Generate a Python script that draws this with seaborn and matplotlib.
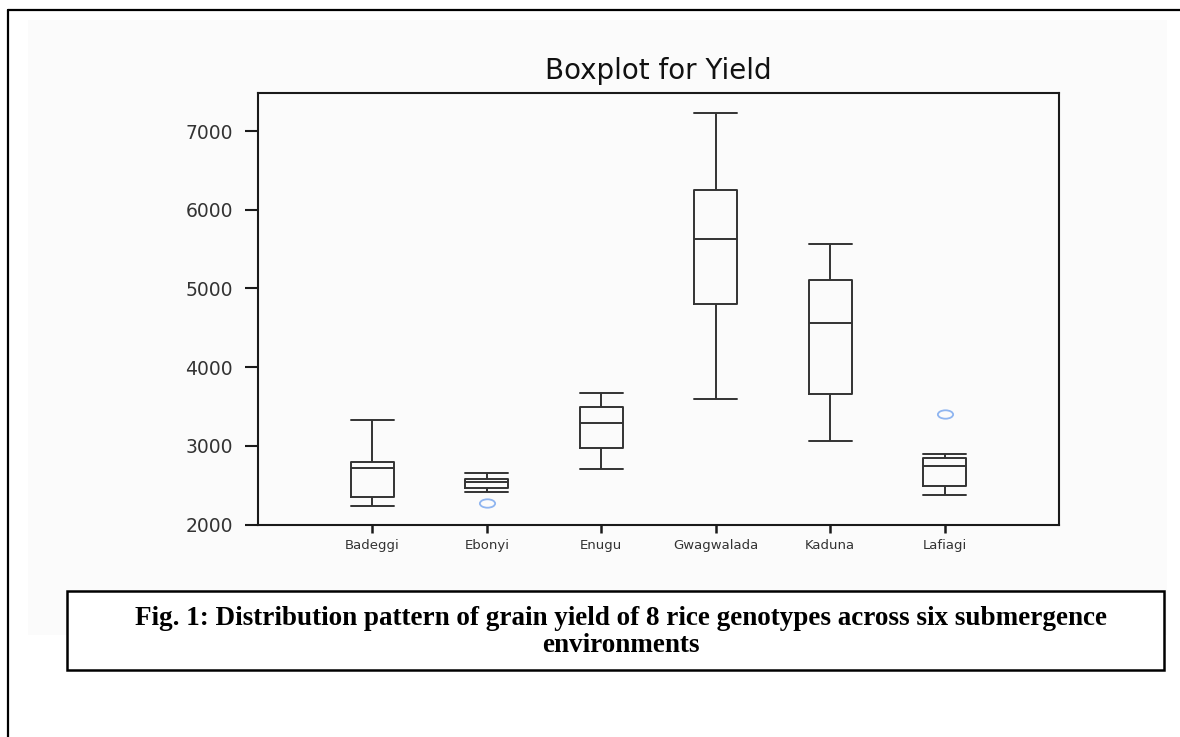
import numpy as np
import pandas as pd
import matplotlib
matplotlib.use("Agg")
import matplotlib.pyplot as plt
from matplotlib.path import Path
from matplotlib.patches import Rectangle
from matplotlib.lines import Line2D
from matplotlib.transforms import Affine2D
import seaborn as sns

# ---------------- data (grain yield of 8 genotypes per environment) ----------------
environments = ["Badeggi", "Ebonyi", "Enugu", "Gwagwalada", "Kaduna", "Lafiagi"]
badeggi = [2229, 2340, 2361, 2690, 2742, 2780, 2832, 3332]
ebonyi = [2267, 2407, 2487, 2525, 2551, 2572, 2608, 2649]
enugu = [2704, 2930, 2991, 3250, 3328, 3460, 3576, 3667]
gwagwalada = [3599, 4690, 4841, 5480, 5772, 6150, 6562, 7233]
kaduna = [3056, 3520, 3709, 4390, 4732, 5040, 5312, 5562]
lafiagi = [2369, 2450, 2500, 2700, 2784, 2832, 2899, 3403]
y_ticks = [2000, 3000, 4000, 5000, 6000, 7000]
title_text = "Boxplot for Yield"
caption_lines = ["Fig. 1: Distribution pattern of grain yield of 8 rice genotypes across six submergence",
                 "environments"]

series = [badeggi, ebonyi, enugu, gwagwalada, kaduna, lafiagi]
df = pd.DataFrame({
    "env": np.repeat(environments, [len(s) for s in series]),
    "yield": np.concatenate(series),
})

sns.set_theme(style="white")
plt.rcParams["font.family"] = ["DejaVu Sans"]

W, H = 1180, 737
fig = plt.figure(figsize=(W / 100, H / 100), dpi=100)
fig.patch.set_facecolor("white")

BG = "#fbfbfb"
# faint grey picture background + outer frame lines
fig.add_artist(Rectangle((28 / W, 1 - 635 / H), (1167 - 28) / W, (635 - 20) / H,
                         transform=fig.transFigure, facecolor=BG,
                         edgecolor="none", zorder=-10))
fig.add_artist(Line2D([8 / W, 8 / W], [0, 1 - 10 / H], transform=fig.transFigure,
                      color="black", lw=1.6))
fig.add_artist(Line2D([8 / W, 1], [1 - 10 / H, 1 - 10 / H], transform=fig.transFigure,
                      color="black", lw=1.6))

ax = fig.add_axes([258 / W, 1 - 524.5 / H, (1059 - 258) / W, (524.5 - 93) / H])
ax.set_facecolor(BG)

ellipse = Affine2D().scale(1.0, 0.55).transform_path(Path.unit_circle())

sns.boxplot(data=df, x="env", y="yield", order=environments, ax=ax,
            fill=False, color="#333333", linewidth=1.4, width=0.375, whis=1.5,
            flierprops=dict(marker=ellipse, markeredgecolor="#8fb5f0",
                            markerfacecolor="none", markersize=11,
                            markeredgewidth=1.3),
            capwidths=0.375)

ax.set_xlim(-1, len(environments))
ax.set_ylim(2000, 7483)
ax.set_yticks(y_ticks)
ax.set_xlabel("")
ax.set_ylabel("")

for sp in ax.spines.values():
    sp.set_visible(True)
    sp.set_color("#1a1a1a")
    sp.set_linewidth(1.5)

ax.tick_params(axis="y", left=True, length=9.4, width=1.5, pad=8.6,
               labelsize=13.5, labelcolor="#333333", color="#1a1a1a")
ax.tick_params(axis="x", bottom=True, length=5.5, width=1.8, pad=5.0,
               labelsize=9.5, labelcolor="#333333", color="#1a1a1a")

fig.text(658.5 / W, 1 - 79.3 / H, title_text, ha="center", va="baseline",
         fontsize=20, color="#111111", family=["DejaVu Sans"])

# caption box
fig.add_artist(Rectangle((66.7 / W, 1 - 670 / H), (1164 - 66.7) / W, (670 - 590.7) / H,
                         transform=fig.transFigure, facecolor="white",
                         edgecolor="black", lw=1.8, zorder=5))
fig.text(621 / W, 1 - 625 / H, caption_lines[0], ha="center", va="baseline",
         fontsize=19.5, fontweight="bold", color="black",
         family=["Liberation Serif", "DejaVu Serif"], zorder=6)
fig.text(621 / W, 1 - 652 / H, caption_lines[1], ha="center", va="baseline",
         fontsize=19.5, fontweight="bold", color="black",
         family=["Liberation Serif", "DejaVu Serif"], zorder=6)

fig.savefig("out.png", dpi=100)
